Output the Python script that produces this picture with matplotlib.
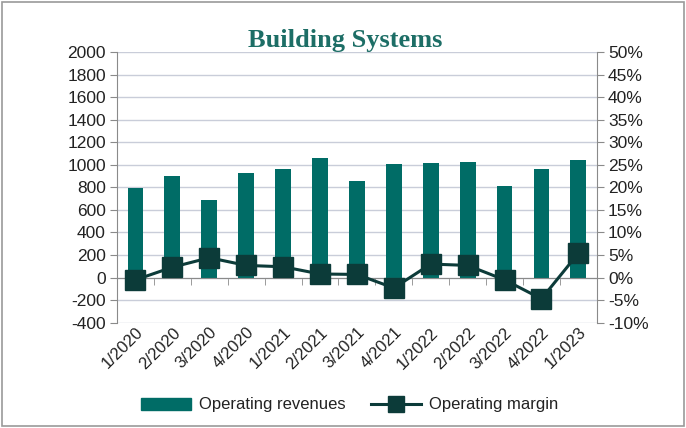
import matplotlib
matplotlib.use("Agg")
import matplotlib.pyplot as plt
from matplotlib.patches import Rectangle, Patch
from matplotlib.lines import Line2D
from matplotlib.ticker import FuncFormatter
import numpy as np

quarters = ["1/2020", "2/2020", "3/2020", "4/2020", "1/2021", "2/2021", "3/2021",
            "4/2021", "1/2022", "2/2022", "3/2022", "4/2022", "1/2023"]
revenues = [790, 900, 690, 930, 960, 1060, 860, 1010, 1015, 1025, 815, 960, 1040]
margin_pct = [-0.5, 2.3, 4.4, 2.7, 2.4, 0.8, 0.7, -2.3, 3.0, 2.7, -0.5, -4.7, 5.4]

bar_color = "#006C66"
line_color = "#0C3B39"
title_color = "#1D6E66"
grid_color = "#C9CDD9"
spine_color = "#8A8A8A"
text_color = "#222222"

plt.rcParams['font.family'] = ['Liberation Sans', 'DejaVu Sans']
plt.rcParams['axes.unicode_minus'] = False

fig = plt.figure(figsize=(6.86, 4.28), dpi=100)
fig.patches.append(Rectangle((0.003, 0.005), 0.994, 0.99, transform=fig.transFigure,
                             fill=False, edgecolor="#9A9A9A", linewidth=1.2))

ax = fig.add_axes([0.1706, 0.246, 0.6994, 0.6325])
x = np.arange(len(quarters))
ax.bar(x, revenues, width=0.43, color=bar_color, zorder=2)
ax.set_xlim(-0.5, len(quarters) - 0.5)
ax.set_ylim(-400, 2000)
ax.set_yticks(np.arange(-400, 2001, 200))
ax.grid(axis='y', color=grid_color, linewidth=1.0, zorder=0)
ax.set_axisbelow(True)

ax.spines['top'].set_visible(False)
ax.spines['right'].set_visible(False)
ax.spines['left'].set_color(spine_color)
ax.spines['bottom'].set_position(('data', 0))
ax.spines['bottom'].set_color(spine_color)
ax.spines['bottom'].set_zorder(3)

ax.set_xticks(x)
ax.set_xticklabels(quarters, rotation=45, ha='right', rotation_mode='anchor',
                   fontsize=12, color=text_color)
ax.tick_params(axis='x', which='major', length=0, pad=34)
ax.set_xticks(np.arange(-0.5, len(quarters), 1.0), minor=True)
ax.tick_params(axis='x', which='minor', length=5, color=spine_color, direction='out')
ax.tick_params(axis='y', length=5, color=spine_color, labelsize=12.5, labelcolor=text_color, pad=3)

ax2 = ax.twinx()
ax2.plot(x, margin_pct, color=line_color, linewidth=2.2, marker='s', markersize=14.5,
         markerfacecolor=line_color, markeredgecolor=line_color, zorder=4)
ax2.set_ylim(-10, 50)
ax2.set_yticks(np.arange(-10, 51, 5))
ax2.yaxis.set_major_formatter(FuncFormatter(lambda v, p: f"{int(round(v))}%"))
ax2.tick_params(axis='y', length=5, color=spine_color, labelsize=12.5, labelcolor=text_color, pad=3)
for s in ['top', 'left', 'bottom']:
    ax2.spines[s].set_visible(False)
ax2.spines['right'].set_color(spine_color)

fig.text(0.503, 0.905, "Building Systems", ha='center', va='center',
         fontsize=19, fontweight='bold', color=title_color,
         family=['Liberation Serif', 'DejaVu Serif'])

handles = [Patch(facecolor=bar_color, edgecolor=bar_color),
           Line2D([0], [0], color=line_color, linewidth=2.2, marker='s', markersize=11)]
fig.legend(handles, ["Operating revenues", "Operating margin"], loc='center',
           bbox_to_anchor=(0.51, 1 - 405 / 428), ncol=2, frameon=False,
           fontsize=12, handlelength=3.0, handletextpad=0.5, columnspacing=1.5,
           labelcolor=text_color)

fig.savefig("out.png", dpi=100)
